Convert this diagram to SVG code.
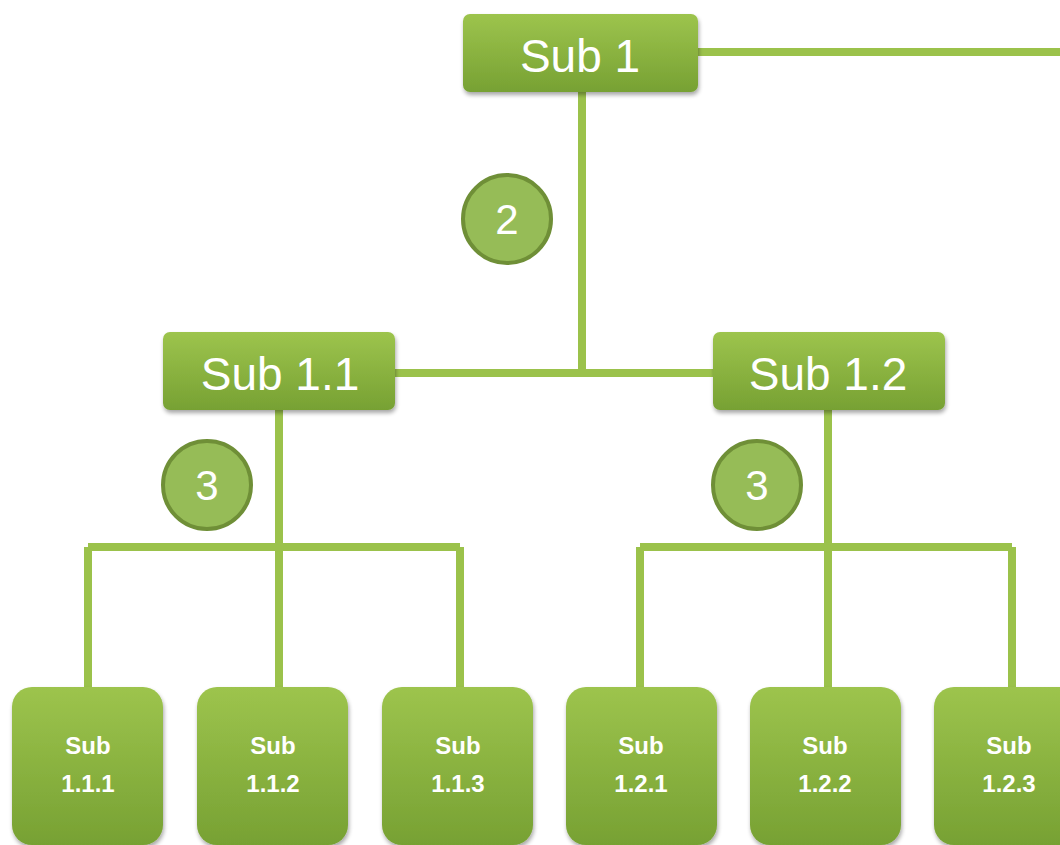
<svg xmlns="http://www.w3.org/2000/svg" width="1060" height="845" viewBox="0 0 1060 845">
<defs>
<linearGradient id="g" x1="0" y1="0" x2="0" y2="1">
<stop offset="0" stop-color="#9dc44d"/>
<stop offset="1" stop-color="#77a133"/>
</linearGradient>
<filter id="sh" x="-10%" y="-10%" width="120%" height="130%">
<feGaussianBlur in="SourceAlpha" stdDeviation="2"/>
<feOffset dx="1" dy="3" result="b"/>
<feComponentTransfer><feFuncA type="linear" slope="0.35"/></feComponentTransfer>
<feMerge><feMergeNode/><feMergeNode in="SourceGraphic"/></feMerge>
</filter>
</defs>
<style>
.box{fill:url(#g);filter:url(#sh)}
.ln{stroke:#9bc24b;stroke-width:8;fill:none}
.big{font-family:"Liberation Sans",Arial,sans-serif;font-size:46px;fill:#fff;text-anchor:middle}
.sm{font-family:"Liberation Sans",Arial,sans-serif;font-size:24px;font-weight:bold;fill:#fff;text-anchor:middle}
.circ{fill:#96bc57;stroke:#6f8f37;stroke-width:4}
.num{font-family:"Liberation Sans",Arial,sans-serif;font-size:42px;fill:#fff;text-anchor:middle}
</style>
<rect width="1060" height="845" fill="#fff"/>
<g id="connectors">
<path class="ln" d="M698 52H1060"/>
<path class="ln" d="M582 92V373M395 373H713"/>
<path class="ln" d="M279 410V547M88 547H460M88 547V688M279 547V688M460 547V688"/>
<path class="ln" d="M828 410V547M640 547H1012M640 547V688M828 547V688M1012 547V688"/>
</g>
<g id="sub1"><rect class="box" x="463" y="14" width="235" height="78" rx="7"/><text class="big" x="580" y="72">Sub 1</text></g>
<g id="sub1_1"><rect class="box" x="163" y="332" width="232" height="78" rx="7"/><text class="big" x="280" y="390">Sub 1.1</text></g>
<g id="sub1_2"><rect class="box" x="713" y="332" width="232" height="78" rx="7"/><text class="big" x="828" y="390">Sub 1.2</text></g>
<g id="badge2"><circle class="circ" cx="507" cy="219" r="44"/><text class="num" x="507" y="234">2</text></g>
<g id="badge3a"><circle class="circ" cx="207" cy="485" r="44"/><text class="num" x="207" y="500">3</text></g>
<g id="badge3b"><circle class="circ" cx="757" cy="485" r="44"/><text class="num" x="757" y="500">3</text></g>
<g id="sub1_1_1"><rect class="box" x="12" y="687" width="151" height="158" rx="20"/><text class="sm" x="88" y="754">Sub</text><text class="sm" x="88" y="792">1.1.1</text></g>
<g id="sub1_1_2"><rect class="box" x="197" y="687" width="151" height="158" rx="20"/><text class="sm" x="273" y="754">Sub</text><text class="sm" x="273" y="792">1.1.2</text></g>
<g id="sub1_1_3"><rect class="box" x="382" y="687" width="151" height="158" rx="20"/><text class="sm" x="458" y="754">Sub</text><text class="sm" x="458" y="792">1.1.3</text></g>
<g id="sub1_2_1"><rect class="box" x="566" y="687" width="151" height="158" rx="20"/><text class="sm" x="641" y="754">Sub</text><text class="sm" x="641" y="792">1.2.1</text></g>
<g id="sub1_2_2"><rect class="box" x="750" y="687" width="151" height="158" rx="20"/><text class="sm" x="825" y="754">Sub</text><text class="sm" x="825" y="792">1.2.2</text></g>
<g id="sub1_2_3"><rect class="box" x="934" y="687" width="151" height="158" rx="20"/><text class="sm" x="1009" y="754">Sub</text><text class="sm" x="1009" y="792">1.2.3</text></g>
</svg>
